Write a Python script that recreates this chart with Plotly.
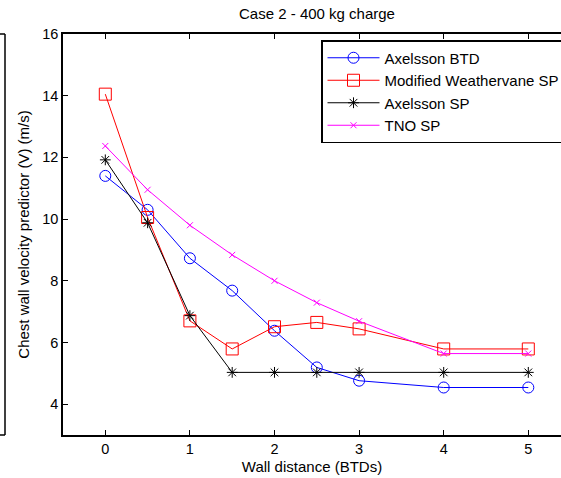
import plotly.graph_objects as go

x = [0, 0.5, 1, 1.5, 2, 2.5, 3, 4, 5]
axelsson_btd = [11.4, 10.3, 8.73, 7.68, 6.38, 5.19, 4.76, 4.54, 4.54]
weathervane_sp = [14.05, 10.05, 6.70, 5.79, 6.51, 6.65, 6.44, 5.79, 5.79]
axelsson_sp = [11.92, 9.88, 6.87, 5.03, 5.03, 5.03, 5.03, 5.03, 5.03]
tno_sp = [12.37, 10.95, 9.80, 8.84, 8.00, 7.29, 6.69, 5.64, 5.64]

series = [
    ("Axelsson BTD", axelsson_btd, "#0000ff", "circle-open", 11),
    ("Modified Weathervane SP", weathervane_sp, "#ff0000", "square-open", 12),
    ("Axelsson SP", axelsson_sp, "#000000", "asterisk-open", 9),
    ("TNO SP", tno_sp, "#ff00ff", "x-thin-open", 6),
]

fig = go.Figure()
for name, ys, col, sym, sz in series:
    fig.add_trace(go.Scatter(
        x=x, y=ys, name=name, mode="lines+markers",
        line=dict(color=col, width=1),
        marker=dict(symbol=sym, size=sz, color=col, line=dict(color=col, width=1)),
    ))

W, H = 561, 478
L, R, T, B = 63, 0, 34, 43
fig.update_layout(
    width=W, height=H,
    margin=dict(l=L, r=R, t=T, b=B, autoexpand=False),
    paper_bgcolor="white", plot_bgcolor="white",
    font=dict(family="Liberation Sans, Arial, sans-serif", size=14.5, color="black"),
    title=dict(text="Case 2 - 400 kg charge", x=(63 + 571) / 2 / W, xanchor="center",
               y=1 - 14 / H, yanchor="middle", yref="container",
               font=dict(size=15, color="black")),
    showlegend=True,
    legend=dict(x=(321 - L) / (W - L), xanchor="left", y=1 - (40 - T) / (H - T - B), yanchor="top",
                bordercolor="black", borderwidth=1.5, bgcolor="white",
                font=dict(size=15), tracegroupgap=0, itemwidth=52),
    xaxis=dict(range=[-0.5, -0.5 + (W - L) / 84.6], tickvals=[0, 1, 2, 3, 4, 5],
               ticks="inside", ticklen=5, tickcolor="black", showline=True, linecolor="black",
               linewidth=1.5, mirror="ticks", showgrid=False, zeroline=False,
               title=dict(text="Wall distance (BTDs)", standoff=5, font=dict(size=15))),
    yaxis=dict(range=[3, 16], tickvals=[4, 6, 8, 10, 12, 14, 16],
               ticks="inside", ticklen=5, tickcolor="black", showline=True, linecolor="black",
               linewidth=1.5, mirror=False, showgrid=False, zeroline=False,
               title=dict(text="Chest wall velocity predictor (V) (m/s)", standoff=9, font=dict(size=15))),
)

# partial neighbouring panel at left edge
px = (5 - L) / (W - L)
p0 = (0 - L) / (W - L)
for shp in [dict(x0=px, x1=px, y0=0, y1=1), dict(x0=p0, x1=px, y0=1, y1=1), dict(x0=p0, x1=px, y0=0, y1=0)]:
    fig.add_shape(type="line", xref="paper", yref="paper", line=dict(color="black", width=1.5), **shp)

fig.write_html("out.html", config={"displayModeBar": False},
               post_script="document.body.style.margin='0';document.body.style.overflow='hidden';")
